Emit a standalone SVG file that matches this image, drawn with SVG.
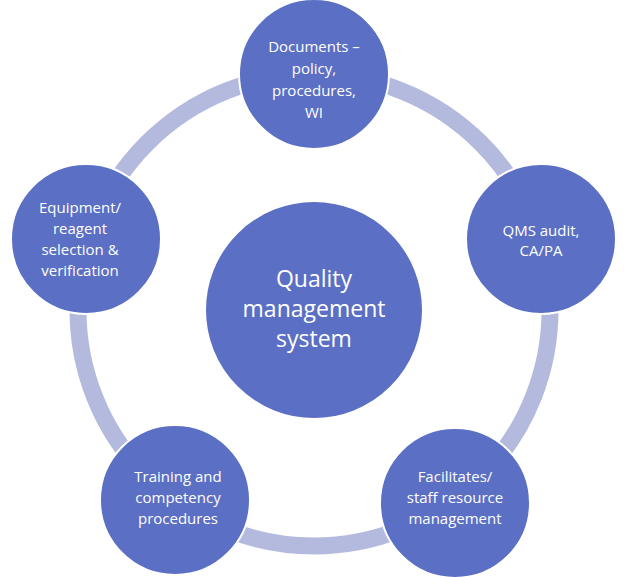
<svg xmlns="http://www.w3.org/2000/svg" width="630" height="577" viewBox="0 0 630 577">
<style>
.n{fill:#5b6fc4;stroke:#fff;stroke-width:2}
.t{fill:#fff;font-family:"Open Sans","Liberation Sans",sans-serif;font-size:15px;text-anchor:middle}
.c{font-size:23px}
</style>
<rect width="630" height="577" fill="#fff"/>
<g id="connectors"><circle cx="314" cy="310" r="236" fill="none" stroke="#b4bade" stroke-width="17"/></g>
<g id="center"><circle class="n" cx="314" cy="310" r="109"/>
<text class="t c" x="314"><tspan x="314" y="287">Quality</tspan><tspan x="314" y="317">management</tspan><tspan x="314" y="347">system</tspan></text></g>
<g id="n1"><circle class="n" cx="314" cy="74" r="75"/>
<text class="t"><tspan x="314" y="52">Documents –</tspan><tspan x="314" y="74">policy,</tspan><tspan x="314" y="96">procedures,</tspan><tspan x="314" y="118">WI</tspan></text></g>
<g id="n2"><circle class="n" cx="541" cy="239" r="75"/>
<text class="t"><tspan x="541" y="236">QMS audit,</tspan><tspan x="541" y="256">CA/PA</tspan></text></g>
<g id="n3"><circle class="n" cx="455" cy="503" r="75"/>
<text class="t"><tspan x="455" y="482">Facilitates/</tspan><tspan x="455" y="503">staff resource</tspan><tspan x="455" y="524">management</tspan></text></g>
<g id="n4"><circle class="n" cx="175" cy="500" r="75"/>
<text class="t"><tspan x="178" y="482">Training and</tspan><tspan x="178" y="503">competency</tspan><tspan x="178" y="524">procedures</tspan></text></g>
<g id="n5"><circle class="n" cx="86" cy="239" r="75"/>
<text class="t"><tspan x="80" y="213">Equipment/</tspan><tspan x="80" y="234">reagent</tspan><tspan x="80" y="255">selection &amp;</tspan><tspan x="80" y="276">verification</tspan></text></g>
</svg>
